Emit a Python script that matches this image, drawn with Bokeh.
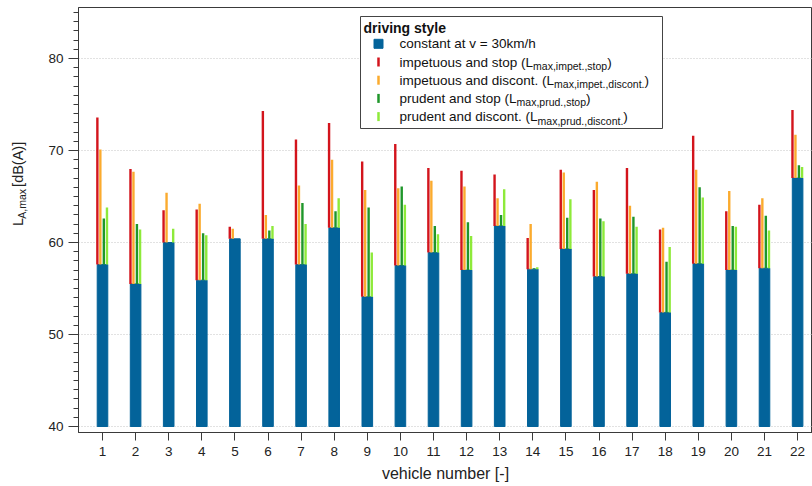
import numpy as np
from bokeh.plotting import figure
from bokeh.layouts import row
from bokeh.models import FixedTicker, Label, BoxAnnotation, Range1d
from bokeh.embed import file_html
from bokeh.resources import INLINE

# ---------------- data ----------------
vehicles = [1, 2, 3, 4, 5, 6, 7, 8, 9, 10, 11, 12, 13, 14, 15, 16, 17, 18, 19, 20, 21, 22]
constant_30 = [57.6, 55.5, 60.0, 55.9, 60.4, 60.4, 57.6, 61.6, 54.1, 57.5, 58.9,
               57.0, 61.8, 57.1, 59.3, 56.3, 56.6, 52.4, 57.7, 57.0, 57.2, 67.0]
impet_stop = [73.6, 68.0, 63.5, 63.6, 61.7, 74.3, 71.2, 73.0, 68.8, 70.7, 68.1,
              67.8, 67.4, 60.5, 67.9, 65.7, 68.1, 61.4, 71.6, 63.4, 64.1, 74.4]
impet_discont = [70.1, 67.7, 65.4, 64.2, 61.5, 63.0, 66.2, 69.0, 65.7, 65.9, 66.7,
                 66.1, 64.8, 62.0, 67.6, 66.6, 64.0, 61.6, 67.9, 65.6, 64.8, 71.7]
prud_stop = [62.6, 62.0, None, 61.0, None, 61.3, 64.3, 63.4, 63.8, 66.1, 61.8,
             62.2, 63.0, 57.2, 62.7, 62.6, 62.8, 57.9, 66.0, 61.8, 62.9, 68.4]
prud_discont = [63.8, 61.4, 61.5, 60.8, None, 61.8, 62.0, 64.8, 58.9, 64.1, 60.9,
                60.7, 65.8, 57.3, 64.7, 62.3, 61.7, 59.5, 64.9, 61.7, 61.3, 68.2]
x_tick_labels = [str(v) for v in vehicles]
y_major_ticks = [40, 50, 60, 70, 80]
y_minor_ticks = list(range(36, 90))

x_title = "vehicle number [-]"
y_title_parts = ("L", "A,max", "[dB(A)]")
legend_title = "driving style"
legend_rows = [
    ("constant at v = 30km/h", None),
    ("impetuous and stop (L", "max,impet.,stop"),
    ("impetuous and discont. (L", "max,impet.,discont."),
    ("prudent and stop (L", "max,prud.,stop"),
    ("prudent and discont. (L", "max,prud.,discont."),
]

# ---------------- style ----------------
BLUE = "#03639a"
RED = "#d3141c"
ORANGE = "#fbab2e"
DGREEN = "#1f962a"
LGREEN = "#8eea3a"
FONT = "Liberation Sans"
AX = "#3a3a3a"

PAGE_W, PAGE_H = 812, 486
LW = 36                      # narrow strip for the rotated y title
W = PAGE_W - LW
FRAME_L, FRAME_T, FRAME_B = 78, 7, 432
BL = FRAME_L - LW
BB = PAGE_H - FRAME_B
FW, FH = PAGE_W - FRAME_L, FRAME_B - FRAME_T
PX_X = 33.1   # pixels per vehicle
PX_Y = 9.2    # pixels per dB
x0 = 1 - (102 - FRAME_L) / PX_X
y0 = 40 - (FRAME_B - 426) / PX_Y


def dx(px):   # page pixel -> data x
    return x0 + (px - FRAME_L) / PX_X


def dy(py):   # page pixel -> data y
    return y0 + (FRAME_B - py) / PX_Y


AW = {' ': 278, '(': 333, ')': 333, ',': 278, '.': 278, '-': 333, '/': 278, '=': 584,
      '[': 278, ']': 278, 'A': 667, 'B': 667, 'L': 556,
      'a': 556, 'b': 556, 'c': 500, 'd': 556, 'e': 556, 'f': 278, 'g': 556, 'h': 556,
      'i': 222, 'j': 222, 'k': 500, 'l': 222, 'm': 833, 'n': 556, 'o': 556, 'p': 556,
      'q': 556, 'r': 333, 's': 500, 't': 278, 'u': 556, 'v': 500, 'w': 722, 'x': 500,
      'y': 500, 'z': 500}


def tw(s, fs):
    return sum(AW.get(c, 556) for c in s) / 1000.0 * fs


p = figure(width=W, height=PAGE_H, x_range=Range1d(x0, x0 + FW / PX_X),
           y_range=Range1d(y0, y0 + FH / PX_Y),
           output_backend="svg", toolbar_location=None,
           min_border_left=BL, min_border_right=0, min_border_top=FRAME_T,
           min_border_bottom=BB)
p.outline_line_color = AX
p.xgrid.visible = False
p.ygrid.grid_line_color = "#c4c4c4"
p.ygrid.grid_line_dash = "1 2"
p.ygrid.ticker = FixedTicker(ticks=y_major_ticks)

p.xaxis.ticker = FixedTicker(ticks=vehicles)
p.xaxis.major_label_overrides = {v: l for v, l in zip(vehicles, x_tick_labels)}
p.xaxis.major_tick_out = 8
p.xaxis.major_tick_in = 0
p.yaxis.ticker = FixedTicker(ticks=y_major_ticks, minor_ticks=y_minor_ticks)
p.yaxis.major_tick_out = 10
p.yaxis.major_tick_in = 0
p.yaxis.minor_tick_out = 5
p.yaxis.minor_tick_in = 0
for ax in (p.xaxis, p.yaxis):
    ax.axis_line_color = AX
    ax.major_tick_line_color = AX
    ax.minor_tick_line_color = AX
    ax.major_label_text_font = FONT
    ax.major_label_text_font_size = "13.5px"
    ax.major_label_text_color = "#222222"
p.xaxis.minor_tick_line_color = None
p.xaxis.major_label_standoff = 6
p.yaxis.major_label_standoff = 5
p.xaxis.axis_label = x_title
p.xaxis.axis_label_text_font = FONT
p.xaxis.axis_label_text_font_size = "16px"
p.xaxis.axis_label_text_font_style = "normal"
p.xaxis.axis_label_text_color = "#222222"
p.xaxis.axis_label_standoff = 6

# ---------------- marks ----------------
xs = np.array(vehicles, dtype=float)
base = np.array(constant_30, dtype=float)
p.vbar(x=xs, width=0.32, bottom=40, top=base, color=BLUE)
for off, vals, col in [(-0.155, impet_stop, RED), (-0.065, impet_discont, ORANGE),
                       (0.04, prud_stop, DGREEN), (0.135, prud_discont, LGREEN)]:
    v = np.array([np.nan if a is None else a for a in vals], dtype=float)
    p.segment(x0=xs + off, y0=base, x1=xs + off, y1=v, line_color=col, line_width=2.4)

# ---------------- legend ----------------
box = BoxAnnotation(left=dx(360), right=dx(662), top=dy(16), bottom=dy(128),
                    fill_color="white", fill_alpha=1.0, line_color="#444444",
                    line_width=1, line_alpha=1.0)
p.add_layout(box)
p.add_layout(Label(x=dx(363), y=dy(27), text=legend_title, text_font=FONT,
                   text_font_size="14px", text_font_style="bold", text_color="#111111",
                   text_baseline="middle", text_align="left", level="overlay"))
row_y = [43.3 + 18.2 * i for i in range(5)]
r = p.scatter(x=[dx(378)], y=[dy(row_y[0])], marker="square", size=9, color=BLUE)
r.level = "overlay"
for yy, col in zip(row_y[1:], [RED, ORANGE, DGREEN, LGREEN]):
    r = p.segment(x0=[dx(378)], y0=[dy(yy + 4.5)], x1=[dx(378)], y1=[dy(yy - 4.5)],
                  line_color=col, line_width=2.5)
    r.level = "overlay"
FS, SFS = 13.5, 10.5
for yy, (main, sub) in zip(row_y, legend_rows):
    tx = 399
    p.add_layout(Label(x=dx(tx), y=dy(yy), text=main, text_font=FONT,
                       text_font_size=f"{FS}px", text_color="#111111",
                       text_baseline="middle", text_align="left", level="overlay"))
    if sub:
        sx = tx + tw(main, FS)
        p.add_layout(Label(x=dx(sx), y=dy(yy + 4), text=sub, text_font=FONT,
                           text_font_size=f"{SFS}px", text_color="#111111",
                           text_baseline="middle", text_align="left", level="overlay"))
        cx = sx + tw(sub, SFS)
        p.add_layout(Label(x=dx(cx), y=dy(yy), text=")", text_font=FONT,
                           text_font_size=f"{FS}px", text_color="#111111",
                           text_baseline="middle", text_align="left", level="overlay"))

# ---------------- y title strip (page pixel coordinates) ----------------
q = figure(width=LW, height=PAGE_H, x_range=Range1d(0, LW), y_range=Range1d(PAGE_H, 0),
           output_backend="svg", toolbar_location=None, x_axis_type=None,
           y_axis_type=None, min_border=0)
q.outline_line_color = None
q.grid.visible = False
YL = 250
yfs, ysfs = 14.5, 10.5
q.add_layout(Label(x=17, y=YL, text=y_title_parts[0], angle=np.pi / 2, text_font=FONT,
                   text_font_size=f"{yfs}px", text_color="#222222",
                   text_baseline="middle", text_align="left"))
s1 = YL - tw(y_title_parts[0], yfs) - 0.5
q.add_layout(Label(x=21.5, y=s1, text=y_title_parts[1], angle=np.pi / 2, text_font=FONT,
                   text_font_size=f"{ysfs}px", text_color="#222222",
                   text_baseline="middle", text_align="left"))
s2 = s1 - tw(y_title_parts[1], ysfs) - tw(" ", yfs) - 2.5
q.add_layout(Label(x=17, y=s2, text=y_title_parts[2], angle=np.pi / 2, text_font=FONT,
                   text_font_size=f"{yfs}px", text_color="#222222",
                   text_baseline="middle", text_align="left"))

layout = row(q, p, spacing=0)
open("out.html", "w").write(file_html(layout, INLINE))
